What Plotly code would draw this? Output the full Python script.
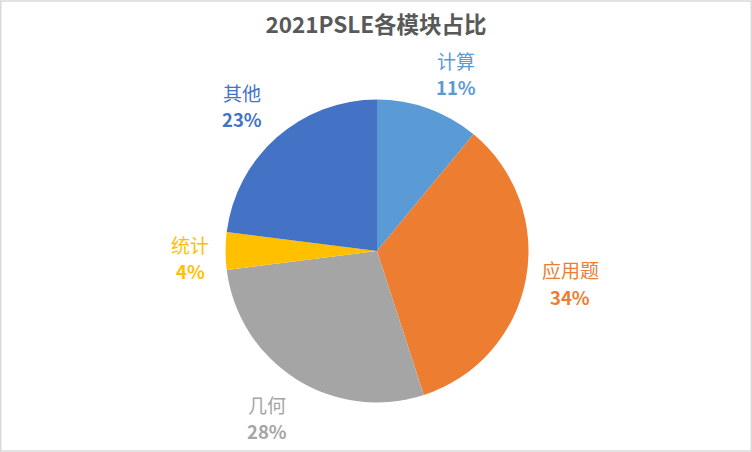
import plotly.graph_objects as go

# 2021 PSLE module shares
categories = ["计算", "应用题", "几何", "统计", "其他"]
shares = [11, 34, 28, 4, 23]
colors = ["#5B9BD5", "#ED7D31", "#A5A5A5", "#FFC000", "#4472C4"]

# label centres (paper coords), placed like Excel's best-fit data labels
label_x = [0.606, 0.758, 0.355, 0.253, 0.322]
label_y = [0.836, 0.372, 0.075, 0.429, 0.765]

font_family = "Noto Sans CJK SC, Microsoft YaHei, sans-serif"

fig = go.Figure()
fig.add_trace(
    go.Pie(
        labels=categories,
        values=shares,
        sort=False,
        direction="clockwise",
        rotation=0,
        marker=dict(colors=colors, line=dict(color="white", width=0)),
        textinfo="none",
        showlegend=False,
        domain=dict(x=[0.2999, 0.7028], y=[0.1095, 0.7799]),
    )
)

total = sum(shares)
annotations = []
for name, val, col, lx, ly in zip(categories, shares, colors, label_x, label_y):
    pct = round(100 * val / total)
    common = dict(
        x=lx, y=ly, xref="paper", yref="paper", showarrow=False,
        xanchor="center", yanchor="middle",
    )
    annotations.append(
        dict(common, text=name, yshift=14,
             font=dict(size=19, color=col, family=font_family))
    )
    annotations.append(
        dict(common, text=f"<b>{pct}%</b>", yshift=-13,
             font=dict(size=18.5, color=col, family=font_family))
    )

fig.update_layout(
    width=752,
    height=452,
    margin=dict(l=0, r=0, t=0, b=0, pad=0),
    paper_bgcolor="white",
    plot_bgcolor="white",
    title=dict(
        text="<b>2021PSLE各模块占比</b>",
        x=0.5,
        xanchor="center",
        y=1 - 25 / 452,
        yanchor="middle",
        font=dict(size=22.5, color="#595959", family=font_family),
    ),
    annotations=annotations,
    shapes=[
        dict(
            type="rect",
            xref="paper",
            yref="paper",
            x0=0.001,
            y0=0.002,
            x1=0.999,
            y1=0.998,
            line=dict(color="#D9D9D9", width=1.5),
        )
    ],
)

fig.write_html(
    "out.html",
    config={"displayModeBar": False},
    post_script="document.body.style.margin='0';document.body.style.overflow='hidden';",
)
